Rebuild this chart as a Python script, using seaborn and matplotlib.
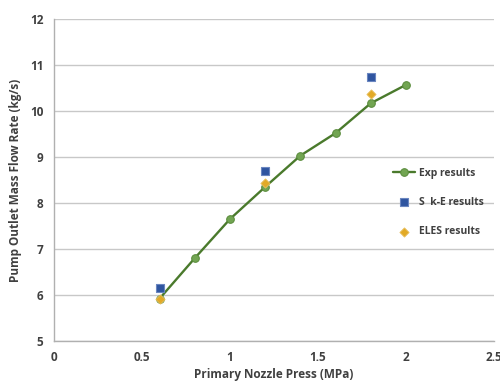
import matplotlib
matplotlib.use("Agg")
import matplotlib.pyplot as plt
import seaborn as sns
import pandas as pd

exp_x = [0.6, 0.8, 1.0, 1.2, 1.4, 1.6, 1.8, 2.0]
exp_y = [5.92, 6.80, 7.65, 8.35, 9.03, 9.52, 10.17, 10.57]
ske_x = [0.6, 1.2, 1.8]
ske_y = [6.15, 8.70, 10.73]
eles_x = [0.6, 1.2, 1.8]
eles_y = [5.90, 8.44, 10.36]

x_ticks = [0, 0.5, 1, 1.5, 2, 2.5]
x_tick_labels = ["0", "0.5", "1", "1.5", "2", "2.5"]
y_ticks = [5, 6, 7, 8, 9, 10, 11, 12]

sns.set_style("white")
plt.rcParams['font.family'] = ['Open Sans', 'DejaVu Sans']

fig = plt.figure(figsize=(5, 3.9), dpi=100)
ax = fig.add_axes([0.108, 0.126, 0.880, 0.825])

txt = "#404040"
grid_c = "#c8c8c8"

df_exp = pd.DataFrame({"x": exp_x, "y": exp_y})
df_ske = pd.DataFrame({"x": ske_x, "y": ske_y})
df_eles = pd.DataFrame({"x": eles_x, "y": eles_y})

sns.lineplot(data=df_exp, x="x", y="y", ax=ax, color="#4a7a2c", lw=1.7,
             marker="o", markersize=5.5, markerfacecolor="#72a552",
             markeredgecolor="#5a8c3c", label="Exp results", zorder=3)
sns.scatterplot(data=df_ske, x="x", y="y", ax=ax, marker="s", s=36,
                color="#2f55a0", edgecolor="#6a86c0", linewidth=0.8,
                label="S  k-E results", zorder=4)
sns.scatterplot(data=df_eles, x="x", y="y", ax=ax, marker="D", s=22,
                color="#e2aa26", edgecolor="#e8c060", linewidth=0.6,
                label="ELES results", zorder=5)

ax.set_xlim(0, 2.5)
ax.set_ylim(5, 12)
ax.set_xticks(x_ticks)
ax.set_xticklabels(x_tick_labels)
ax.set_yticks(y_ticks)
ax.yaxis.grid(True, color=grid_c, lw=1.0)
ax.xaxis.grid(False)
ax.set_axisbelow(True)

for s in ["top", "right"]:
    ax.spines[s].set_visible(False)
for s in ["left", "bottom"]:
    ax.spines[s].set_color("#b0b0b0")
    ax.spines[s].set_linewidth(1.0)

ax.tick_params(axis="both", colors="#b0b0b0", labelcolor=txt, labelsize=8.5,
               length=4, width=1, direction="out")
for lab in ax.get_xticklabels() + ax.get_yticklabels():
    lab.set_fontweight("bold")

ax.set_xlabel("Primary Nozzle Press (MPa)", fontsize=8.5, fontweight="bold",
              color=txt, labelpad=3)
ax.set_ylabel("Pump Outlet Mass Flow Rate (kg/s)", fontsize=8.5,
              fontweight="bold", color=txt, labelpad=6)

leg = ax.legend(loc="center left", bbox_to_anchor=(0.76, 0.43), frameon=False,
                fontsize=7.5, labelspacing=1.75, handlelength=2.2,
                handletextpad=0.3, borderaxespad=0)
for t in leg.get_texts():
    t.set_color(txt)
    t.set_fontweight("bold")

fig.savefig("out.png", dpi=100)
